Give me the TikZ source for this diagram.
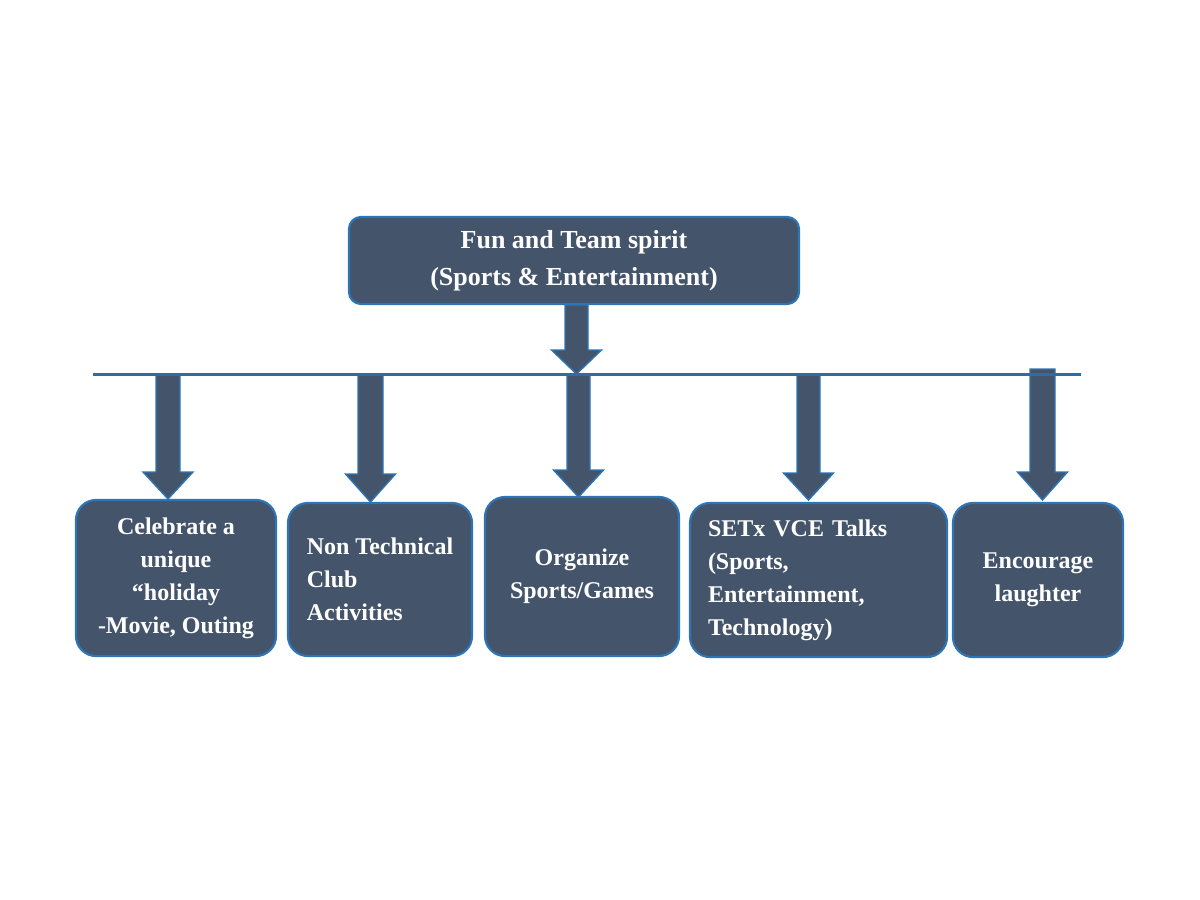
\documentclass[tikz,border=0pt]{standalone}
\usepackage{fontspec}
\setmainfont{Liberation Serif}
\definecolor{boxfill}{HTML}{44546A}
\definecolor{boxedge}{HTML}{2E75B6}
\definecolor{linecol}{HTML}{2E6DA4}
\tikzset{
  box/.style={draw=boxedge, line width=2.2pt, fill=boxfill, text=white,
    inner sep=0pt, font=\fontsize{24}{33}\selectfont\bfseries},
  topbox/.style={box, rounded corners=12pt, font=\fontsize{26}{37}\selectfont\bfseries},
  lowbox/.style={box, rounded corners=20pt},
  blockarrow/.style={draw=boxedge, line width=1.4pt, fill=boxfill},
  hline/.style={draw=linecol, line width=3pt}
}
% x, shaft half width, y top, y tip, head length
\newcommand{\blockarr}[5]{%
  \filldraw[blockarrow] (#1-#2,#3) -- (#1+#2,#3) -- (#1+#2,#4-#5) -- (#1+25,#4-#5)
    -- (#1,#4) -- (#1-25,#4-#5) -- (#1-#2,#4-#5) -- cycle;}
\begin{document}
\begin{tikzpicture}[x=1pt,y=-1pt]
\useasboundingbox (0,0) rectangle (1200,900);

\node[topbox, minimum width=450, minimum height=87, align=center] (top) at (574,260.5)
  {Fun and Team spirit\\(Sports \& Entertainment)};

\node[lowbox, minimum width=200, minimum height=156, align=center] (b1) at (176,578)
  {Celebrate a\\unique\\“holiday\\-Movie, Outing};
\node[lowbox, minimum width=184, minimum height=153, align=left] (b2) at (380,579.5)
  {Non Technical\\Club\\Activities};
\node[lowbox, minimum width=194, minimum height=159, align=center] (b3) at (582,576.5)
  {Organize\\Sports/Games};
\node[lowbox, minimum width=257, minimum height=154, text width=221, align=left] (b4) at (818.5,580)
  {SETx VCE Talks\\(Sports,\\Entertainment,\\Technology)};
\node[lowbox, minimum width=170, minimum height=154, align=center] (b5) at (1038,580)
  {Encourage\\laughter};

% arrows
\blockarr{576.5}{11.5}{305}{374}{24}
\blockarr{168}{12}{375}{499}{27}
\blockarr{370.5}{12.5}{375}{502}{28}
\blockarr{578.5}{11.5}{375}{497}{27}
\blockarr{808.5}{11.5}{375}{500}{27}
\blockarr{1042.5}{12.5}{369}{500}{28}

\coordinate (lineL) at (93,374);
\coordinate (lineR) at (1081,374);
\draw[hline] (lineL) -- (lineR);
\end{tikzpicture}
\end{document}
